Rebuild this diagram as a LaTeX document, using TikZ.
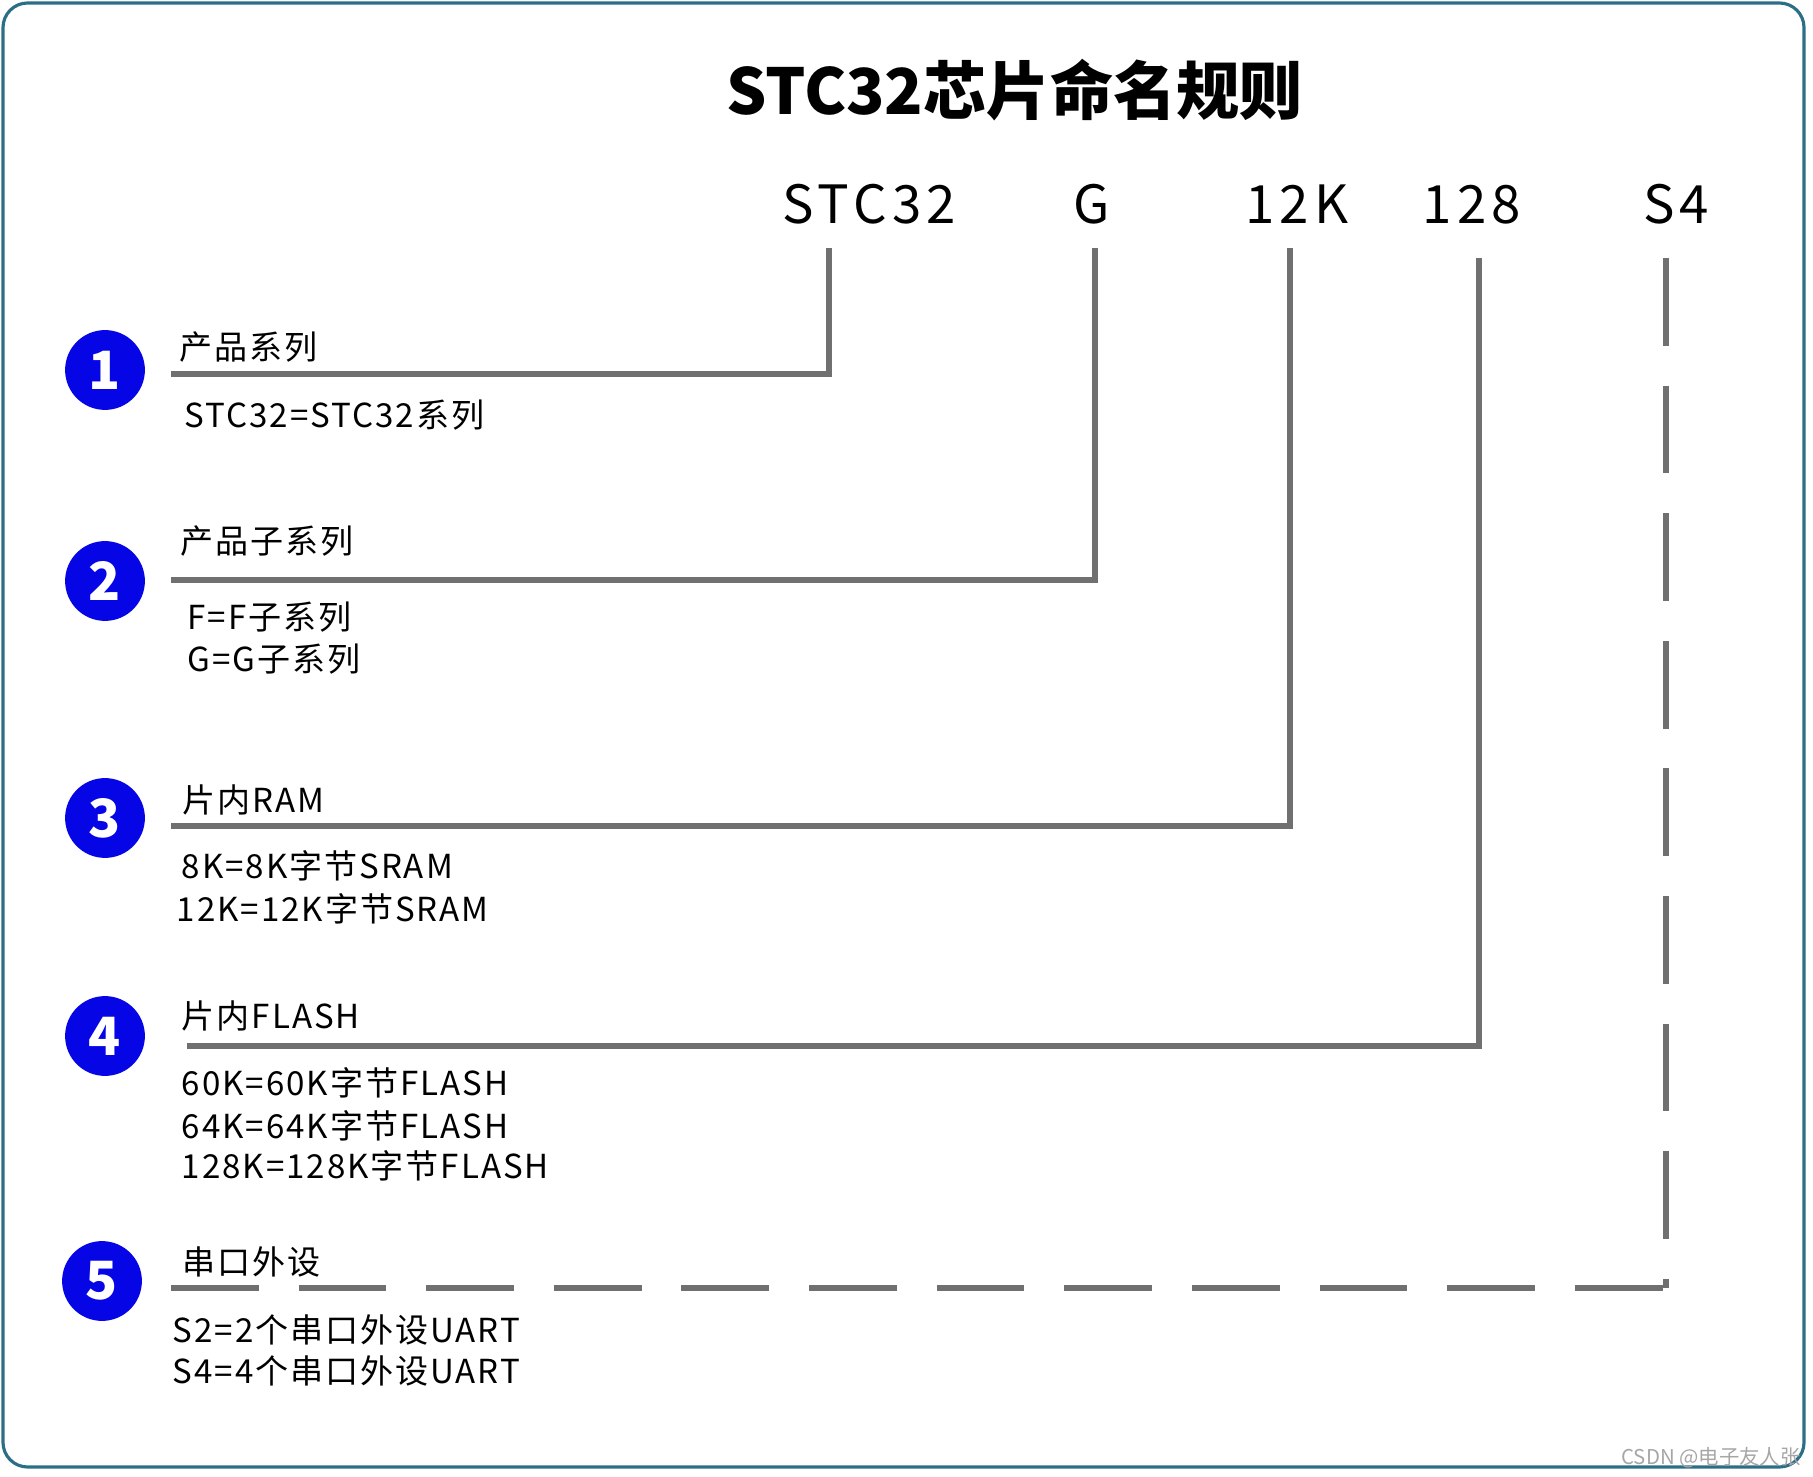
\documentclass[tikz,border=0pt]{standalone}
\usepackage{fontspec}
\setmainfont{Noto Sans CJK SC}
\newfontfamily\bodyfont[LetterSpace=6]{Noto Sans CJK SC}
\newfontfamily\codefont[LetterSpace=10]{Noto Sans CJK SC}
\definecolor{linegray}{RGB}{112,112,112}
\definecolor{dotblue}{RGB}{5,5,230}
\definecolor{framecol}{RGB}{45,110,135}
\begin{document}
\begin{tikzpicture}[x=0.01cm,y=-0.01cm,
	conn/.style={line width=1.9pt,draw=linegray},
	dashconn/.style={conn,dash pattern=on 24.95pt off 11.34pt},
	num/.style={circle,fill=dotblue,text=white,minimum size=22.7pt,inner sep=0pt,font=\bfseries\fontsize{15}{17}\selectfont},
	head/.style={anchor=base west,inner sep=0pt,font=\bodyfont\fontsize{9.4}{11}\selectfont},
	item/.style={head},
	code/.style={anchor=base,inner sep=0pt,font=\codefont\fontsize{15}{18}\selectfont}]
	\useasboundingbox (0,0) rectangle (1813,1477);
	\draw[framecol,line width=0.9pt,rounded corners=7pt] (3,3) rectangle (1804,1467);
	\node[anchor=base west,inner sep=0pt,font=\bfseries\fontsize{18}{22}\selectfont] (title) at (726,115) {STC32芯片命名规则};
	\node[code] (stc) at (869,224) {STC32};
	\node[code] (sub) at (1092,224) {G};
	\node[code] (ram) at (1297,224) {12K};
	\node[code] (flash) at (1472,224) {128};
	\node[code] (uart) at (1676,224) {S4};
	\node[num] (c1) at (105,370) {1};
	\node[num] (c2) at (105,581) {2};
	\node[num] (c3) at (105,818) {3};
	\node[num] (c4) at (105,1036) {4};
	\node[num] (c5) at (102,1281) {5};
	\node[head] (h1) at (179,360) {产品系列};
	\node[item] (d1) at (184,428) {STC32=STC32系列};
	\node[head] (h2) at (180,554) {产品子系列};
	\node[item] (d2a) at (187,630) {F=F子系列};
	\node[item] (d2b) at (187,672) {G=G子系列};
	\node[head] (h3) at (182,813) {片内RAM};
	\node[item] (d3a) at (181,878) {8K=8K字节SRAM};
	\node[item] (d3b) at (176,922) {12K=12K字节SRAM};
	\node[head] (h4) at (181,1028) {片内FLASH};
	\node[item] (d4a) at (181,1095) {60K=60K字节FLASH};
	\node[item] (d4b) at (181,1138) {64K=64K字节FLASH};
	\node[item] (d4c) at (181,1178) {128K=128K字节FLASH};
	\node[head] (h5) at (182,1274) {串口外设};
	\node[item] (d5a) at (172,1342) {S2=2个串口外设UART};
	\node[item] (d5b) at (172,1383) {S4=4个串口外设UART};
	\node[text=gray!70,font=\fontsize{5.8}{7}\selectfont] (mark) at (1711,1458) {CSDN @电子友人张};
	% leader lines
	\coordinate (top1) at (829,248);
	\coordinate (top2) at (1095,248);
	\coordinate (top3) at (1290,248);
	\coordinate (top4) at (1479,258);
	\coordinate (top5) at (1666,258);
	\coordinate (end1) at (171,374);
	\coordinate (end2) at (171,580);
	\coordinate (end3) at (171,826);
	\coordinate (end4) at (187,1046);
	\coordinate (end5) at (171,1288);
	\coordinate (corner5) at (1666,1288);
	\draw[conn] (top1) |- (end1);
	\draw[conn] (top2) |- (end2);
	\draw[conn] (top3) |- (end3);
	\draw[conn] (top4) |- (end4);
	\draw[dashconn] (top5) -- (corner5);
	\draw[dashconn] (end5) -- (corner5);
\end{tikzpicture}
\end{document}
